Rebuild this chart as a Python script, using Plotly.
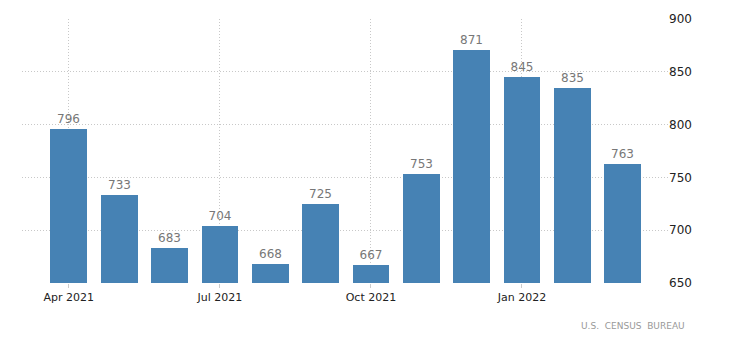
import plotly.graph_objects as go

months = ["Apr 2021", "May 2021", "Jun 2021", "Jul 2021", "Aug 2021", "Sep 2021",
          "Oct 2021", "Nov 2021", "Dec 2021", "Jan 2022", "Feb 2022", "Mar 2022"]
values = [796, 733, 683, 704, 668, 725, 667, 753, 871, 845, 835, 763]
x_ticks = ["Apr 2021", "Jul 2021", "Oct 2021", "Jan 2022"]
y_ticks = [650, 700, 750, 800, 850, 900]
source = "U.S.  CENSUS  BUREAU"

fig = go.Figure()
fig.add_trace(go.Bar(
    x=months, y=values,
    marker=dict(color="#4682B4", line=dict(width=0)),
    width=0.73,
    text=[str(v) for v in values],
    textposition="outside",
    textfont=dict(color="#777777", size=12, family="DejaVu Sans"),
    cliponaxis=False,
))

fig.update_layout(
    width=730, height=345,
    margin=dict(l=22, r=62, t=19, b=62),
    plot_bgcolor="white", paper_bgcolor="white",
    showlegend=False,
    font=dict(family="DejaVu Sans", size=11, color="#222222"),
    bargap=0,
)
fig.update_xaxes(
    type="category",
    range=[-0.93, 11.90],
    tickmode="array", tickvals=x_ticks, ticktext=x_ticks,
    showgrid=True, gridcolor="#c8c8c8", griddash="1px,2px", gridwidth=1,
    ticks="outside", ticklen=4, tickcolor="#cccccc",
    showline=False, zeroline=False,
    tickfont=dict(size=11, color="#222222"),
)
fig.update_yaxes(
    side="right",
    range=[650, 900],
    tickmode="array", tickvals=y_ticks,
    showgrid=True, gridcolor="#c8c8c8", griddash="1px,2px", gridwidth=1,
    showline=False, zeroline=False, ticks="",
    tickfont=dict(size=12, color="#222222"),
)
fig.add_annotation(
    text=source, xref="paper", yref="paper", x=1.03, y=-0.135,
    xanchor="right", yanchor="top", showarrow=False,
    font=dict(size=9, color="#999999", family="DejaVu Sans"),
)
fig.write_html("out.html")
